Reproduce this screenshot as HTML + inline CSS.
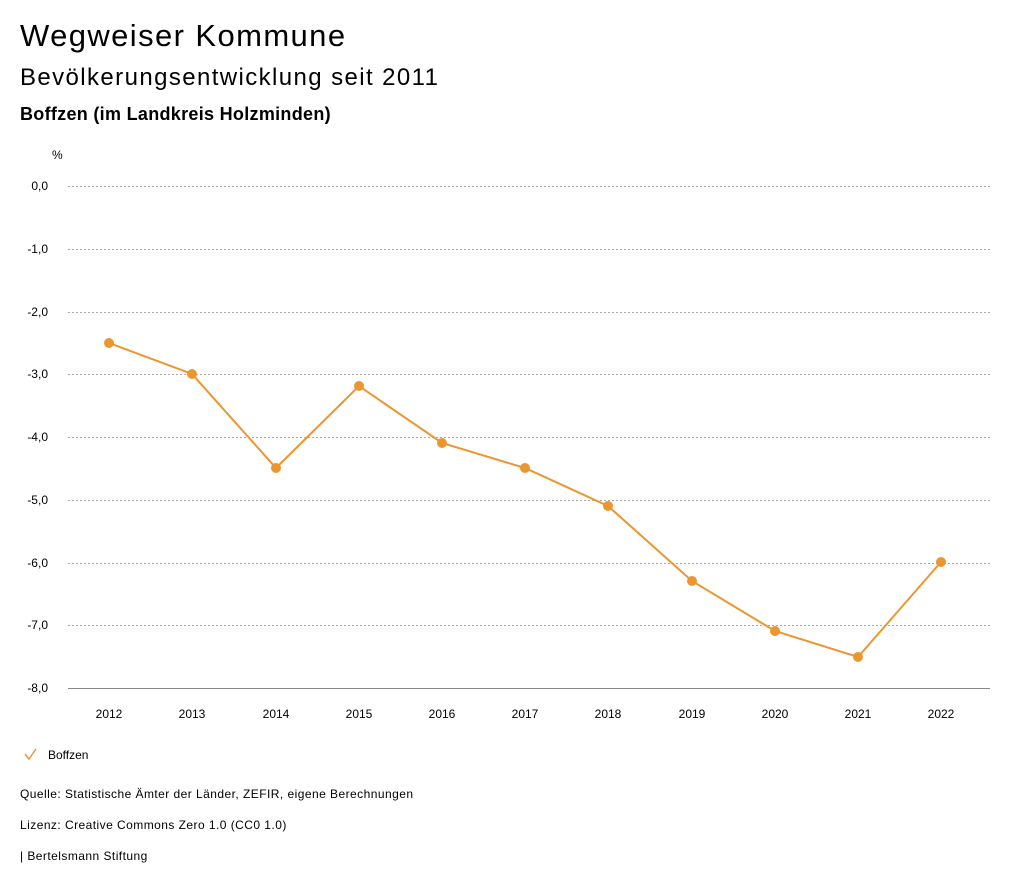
<!DOCTYPE html>
<html><head><meta charset="utf-8"><style>
body{margin:0;background:#fff;width:1024px;height:888px;overflow:hidden;font-family:"Liberation Sans",sans-serif;color:#000}
.t{position:absolute;white-space:nowrap}
</style></head><body>
<div class="t" style="left:20px;top:18px;font-size:31px;letter-spacing:1.4px">Wegweiser Kommune</div>
<div class="t" style="left:20px;top:64px;font-size:24px;letter-spacing:1.4px">Bevölkerungsentwicklung seit 2011</div>
<div class="t" style="left:20px;top:104px;font-size:18px;letter-spacing:0.3px;font-weight:bold">Boffzen (im Landkreis Holzminden)</div>
<svg width="1024" height="888" style="position:absolute;left:0;top:0" font-family="Liberation Sans, sans-serif">
<text x="52" y="159" font-size="12">%</text>
<g stroke="#aaa" stroke-dasharray="2,2" stroke-width="1">
<line x1="68" x2="990" y1="186.5" y2="186.5"/><line x1="68" x2="990" y1="249.5" y2="249.5"/>
<line x1="68" x2="990" y1="312.5" y2="312.5"/><line x1="68" x2="990" y1="374.5" y2="374.5"/>
<line x1="68" x2="990" y1="437.5" y2="437.5"/><line x1="68" x2="990" y1="500.5" y2="500.5"/>
<line x1="68" x2="990" y1="563.5" y2="563.5"/><line x1="68" x2="990" y1="625.5" y2="625.5"/>
</g>
<line x1="68" x2="990" y1="688.5" y2="688.5" stroke="#888"/>
<g font-size="12" text-anchor="end">
<text x="48" y="190">0,0</text><text x="48" y="253">-1,0</text><text x="48" y="316">-2,0</text>
<text x="48" y="378">-3,0</text><text x="48" y="441">-4,0</text><text x="48" y="504">-5,0</text>
<text x="48" y="567">-6,0</text><text x="48" y="629">-7,0</text><text x="48" y="692">-8,0</text>
</g>
<g font-size="12" text-anchor="middle">
<text x="109" y="718">2012</text><text x="192" y="718">2013</text><text x="276" y="718">2014</text>
<text x="359" y="718">2015</text><text x="442" y="718">2016</text><text x="525" y="718">2017</text>
<text x="608" y="718">2018</text><text x="692" y="718">2019</text><text x="775" y="718">2020</text>
<text x="858" y="718">2021</text><text x="941" y="718">2022</text>
</g>
<polyline fill="none" stroke="#ec9630" stroke-width="2" points="109,343 192,374 276,468 359,386 442,443 525,468 608,506 692,581 775,631 858,657 941,562"/>
<g fill="#ec9630">
<circle cx="109" cy="343" r="5"/><circle cx="192" cy="374" r="5"/><circle cx="276" cy="468" r="5"/>
<circle cx="359" cy="386" r="5"/><circle cx="442" cy="443" r="5"/><circle cx="525" cy="468" r="5"/>
<circle cx="608" cy="506" r="5"/><circle cx="692" cy="581" r="5"/><circle cx="775" cy="631" r="5"/>
<circle cx="858" cy="657" r="5"/><circle cx="941" cy="562" r="5"/>
</g>
<polyline points="25,754 29,759 36,749" fill="none" stroke="#ec9630" stroke-width="1.5"/>
<text x="48" y="759" font-size="12">Boffzen</text>
<g font-size="12" letter-spacing="0.45">
<text x="20" y="798">Quelle: Statistische Ämter der Länder, ZEFIR, eigene Berechnungen</text>
<text x="20" y="829">Lizenz: Creative Commons Zero 1.0 (CC0 1.0)</text>
<text x="20" y="860">| Bertelsmann Stiftung</text>
</g>
</svg>
</body></html>
